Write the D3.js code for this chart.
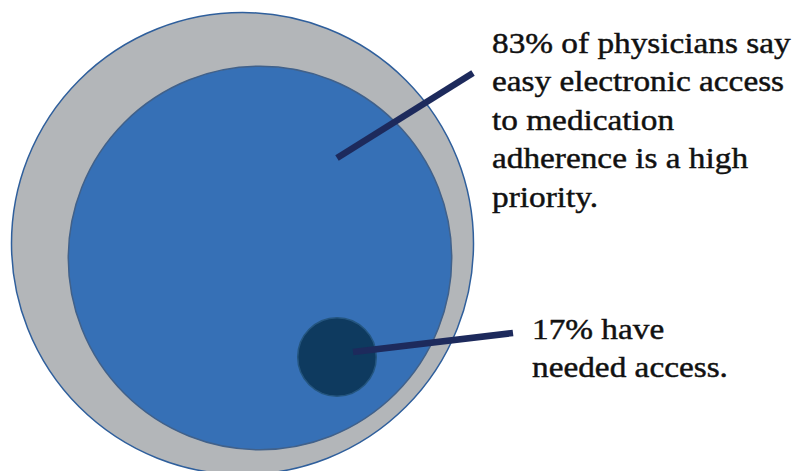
<!DOCTYPE html>
<html>
<head>
<meta charset="utf-8">
<script src="https://cdn.jsdelivr.net/npm/d3@7"></script>
<style>
  html, body { margin: 0; padding: 0; background: #fff; }
  svg { display: block; }
</style>
</head>
<body>
<div id="chart"></div>
<script>
// shares shown as nested circles (radius ~ percent)
const groups = ["All physicians", "High priority", "Have needed access"];
const percents = [100, 83, 17];

const calloutTop = ["83% of physicians say", "easy electronic access", "to medication", "adherence is a high", "priority."];
const calloutBottom = ["17% have", "needed access."];

const width = 806, height = 471;

const svg = d3.select("#chart")
    .append("svg")
    .attr("width", width)
    .attr("height", height);

// radius is linear in the percent
const r = d3.scaleLinear().domain([0, 100]).range([0, 231]);

// centres of each circle (layout, not data)
const centers = [[242.5, 243.5], [260, 258], [337, 357]];
const fills = ["#b3b6b9", "#3670b6", "#0e3a5f"];
const strokes = ["#2f5f9c", "#41618a", "#24557f"];

svg.selectAll("circle")
    .data(percents)
    .enter()
    .append("circle")
    .attr("cx", (d, i) => centers[i][0])
    .attr("cy", (d, i) => centers[i][1])
    .attr("r", d => r(d))
    .attr("fill", (d, i) => fills[i])
    .attr("stroke", (d, i) => strokes[i])
    .attr("stroke-width", 1.5);

// leader lines
const leaders = [
    [[337, 158], [473, 73]],
    [[353, 352], [513, 333]]
];
svg.selectAll("line.leader")
    .data(leaders)
    .enter()
    .append("line")
    .attr("class", "leader")
    .attr("x1", d => d[0][0]).attr("y1", d => d[0][1])
    .attr("x2", d => d[1][0]).attr("y2", d => d[1][1])
    .attr("stroke", "#1d2a5c")
    .attr("stroke-width", 6.5);

// text blocks: the source text is slightly stretched horizontally
const addBlock = (lines, x, y0, lh) => {
    const g = svg.append("g")
        .attr("transform", `translate(${x},${y0}) scale(1.11,1)`);
    g.selectAll("text")
        .data(lines)
        .enter()
        .append("text")
        .attr("x", 0)
        .attr("y", (d, i) => i * lh)
        .style("font-family", "'Liberation Serif', 'Times New Roman', serif")
        .style("font-size", "30px")
        .attr("fill", "#111")
        .attr("stroke", "#111")
        .attr("stroke-width", 0.45)
        .text(d => d);
};

addBlock(calloutTop, 492, 53, 38.5);
addBlock(calloutBottom, 532, 339, 38);
</script>
</body>
</html>
